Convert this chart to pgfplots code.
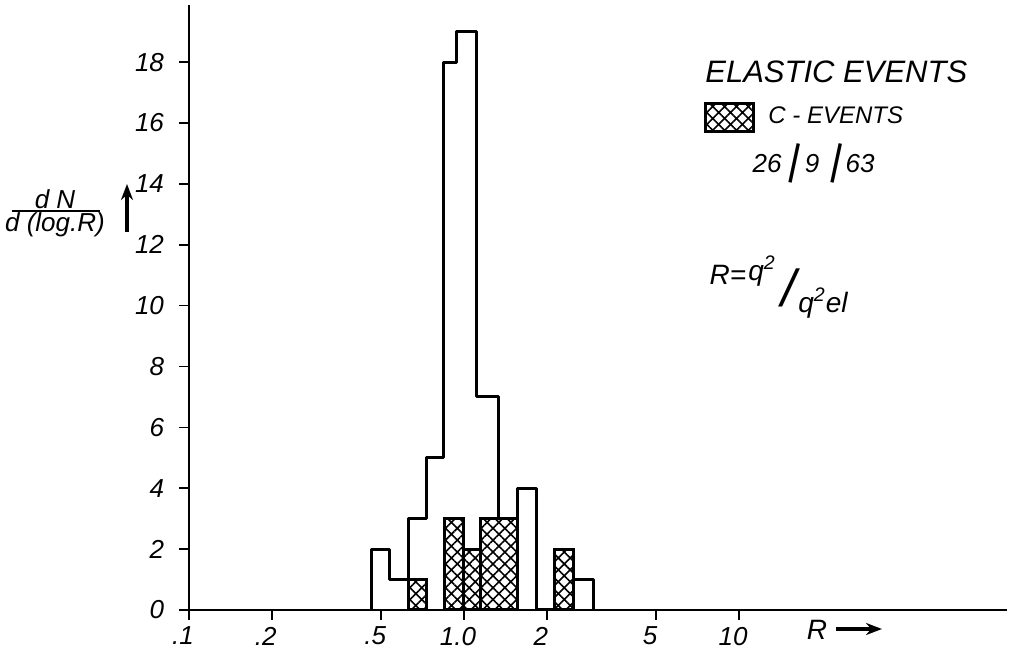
\documentclass[border=0pt]{standalone}
\usepackage{fontspec}
\setmainfont{Liberation Sans}
\usepackage{pgfplots}
\pgfplotsset{compat=1.18}
\usetikzlibrary{patterns.meta,arrows.meta}
\tikzset{hatchfill/.style={pattern={Hatch[angle=45,distance=4.2pt,line width=0.8pt]}}}
\begin{document}
\begin{tikzpicture}
\begin{axis}[name=ax, scale only axis, width=409pt, height=302.5pt,
  xmode=log, xmin=0.1, xmax=94.3, ymin=0, ymax=19.875,
  axis x line*=bottom, axis y line*=left,
  axis line style={line width=0.8pt},
  xtick={0.1,0.2,0.5,1,2,5,10}, xticklabels={.1,.2,.5,1.0,2,5,10},
  ytick={0,2,...,18}, minor xtick={},
  tick align=outside, major tick length=5pt,
  tick style={line width=0.8pt, black},
  ticklabel style={font=\fontsize{13}{15}\selectfont\itshape},
  xticklabel style={xshift=-3pt},
  yticklabel style={xshift=-4pt},
  /pgf/number format/assume math mode=true,
  clip=false]
% C-events (hatched)
\addplot[line width=1.5pt, hatchfill] coordinates {(0.630,0)(0.630,1)(0.733,1)(0.733,0)} \closedcycle;
\addplot[line width=1.5pt, hatchfill] coordinates {(0.8495,0)(0.8495,3)(0.9933,3)(0.9933,0)} \closedcycle;
\addplot[line width=1.5pt, hatchfill] coordinates {(0.9933,0)(0.9933,2)(1.148,2)(1.148,0)} \closedcycle;
\addplot[line width=1.5pt, hatchfill] coordinates {(1.148,0)(1.148,3)(1.5614,3)(1.5614,0)} \closedcycle;
\addplot[line width=1.5pt, hatchfill] coordinates {(2.1335,0)(2.1335,2)(2.495,2)(2.495,0)} \closedcycle;
% all elastic events (outline)
\addplot[const plot, line width=1.5pt, line join=round] coordinates {
 (0.4609,0) (0.4609,2) (0.5374,1) (0.6300,3) (0.733,5) (0.8402,18) (0.9391,19)
 (1.1104,7) (1.3386,3) (1.5614,4) (1.8302,0) (2.1335,2) (2.4950,1) (2.9500,0)};
\end{axis}
\pgfresetboundingbox
\begin{scope}[shift={(ax.south west)}, xshift=-94.5pt, yshift=305pt, x=0.5pt, y=-0.5pt]
\useasboundingbox (0,0) rectangle (1017,653);
\node[anchor=west, font=\fontsize{15.5}{18}\selectfont\itshape, inner sep=0pt] at (705,72) {ELASTIC EVENTS};
\draw[line width=1.5pt, hatchfill] (705,104) rectangle (753,132);
\node[anchor=west, font=\fontsize{12}{14}\selectfont\itshape, inner sep=0pt] at (768,115) {C - EVENTS};
\node[font=\fontsize{13}{15}\selectfont\itshape, inner sep=0pt] at (767,164) {26};
\node[font=\fontsize{21}{24}\selectfont\itshape, inner sep=0pt, rotate=-12] at (794,163) {|};
\node[font=\fontsize{13}{15}\selectfont\itshape, inner sep=0pt] at (812,164) {9};
\node[font=\fontsize{21}{24}\selectfont\itshape, inner sep=0pt, rotate=-12] at (836,163) {|};
\node[font=\fontsize{13}{15}\selectfont\itshape, inner sep=0pt] at (860,164) {63};
\node[font=\fontsize{14}{16}\selectfont\itshape, inner sep=0pt] at (728,275) {R=};
\node[font=\fontsize{14}{16}\selectfont\itshape, inner sep=0pt] at (762,271) {q\textsuperscript{2}};
\node[font=\fontsize{26}{28}\selectfont\itshape, inner sep=0pt] at (789,288) {/};
\node[font=\fontsize{14}{16}\selectfont\itshape, inner sep=0pt] at (823,303) {q\textsuperscript{2}el};
\node[font=\fontsize{13}{15}\selectfont\itshape, inner sep=0pt] at (55,199) {d N};
\draw[line width=0.9pt] (12,211) -- (100,211);
\node[font=\fontsize{13}{15}\selectfont\itshape, inner sep=0pt] at (55,225) {d (log.R)};
\draw[line width=2pt, -{Stealth[length=8pt,width=6pt]}] (127,232) -- (127,184);
\node[font=\fontsize{14}{16}\selectfont\itshape, inner sep=0pt] at (817,630) {R};
\draw[line width=2pt, -{Stealth[length=8pt,width=6pt]}] (836,629) -- (882,629);
\end{scope}
\end{tikzpicture}
\end{document}
